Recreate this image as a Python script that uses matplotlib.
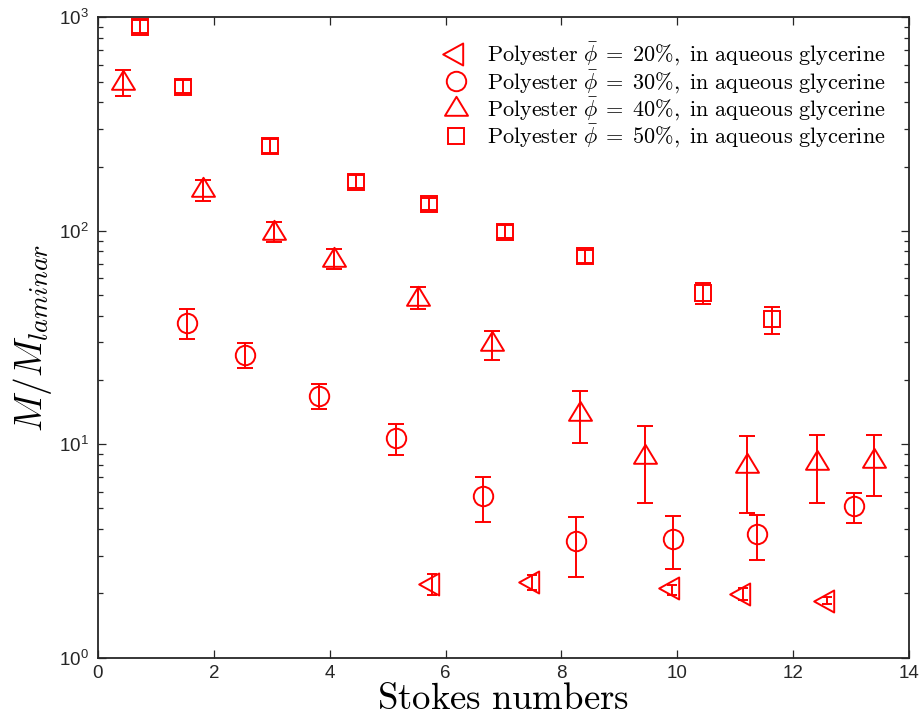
import numpy as np
import matplotlib
matplotlib.use("Agg")
import matplotlib.pyplot as plt
from matplotlib.path import Path
from matplotlib.ticker import LogLocator, NullFormatter, FixedLocator

plt.rcParams['font.family'] = ['Liberation Sans', 'DejaVu Sans']
plt.rcParams['mathtext.fontset'] = 'cm'

# ---- data ----
labels = [r'$\mathrm{Polyester}\ \bar{\phi}\;=\;20\%,\ \mathrm{in\ aqueous\ glycerine}$',
          r'$\mathrm{Polyester}\ \bar{\phi}\;=\;30\%,\ \mathrm{in\ aqueous\ glycerine}$',
          r'$\mathrm{Polyester}\ \bar{\phi}\;=\;40\%,\ \mathrm{in\ aqueous\ glycerine}$',
          r'$\mathrm{Polyester}\ \bar{\phi}\;=\;50\%,\ \mathrm{in\ aqueous\ glycerine}$']

x20 = [5.76, 7.49, 9.91, 11.13, 12.58]
y20 = [2.21, 2.26, 2.13, 1.99, 1.85]
lo20 = [1.96, 2.07, 1.97, 1.86, 1.79]
hi20 = [2.47, 2.43, 2.19, 2.11, 1.93]

x30 = [1.53, 2.53, 3.82, 5.14, 6.65, 8.26, 9.93, 11.38, 13.05]
y30 = [36.9, 26.2, 16.9, 10.7, 5.72, 3.52, 3.59, 3.80, 5.14]
lo30 = [31.1, 22.7, 14.6, 8.93, 4.31, 2.38, 2.60, 2.86, 4.26]
hi30 = [42.9, 29.8, 19.2, 12.4, 7.0, 4.58, 4.61, 4.68, 5.93]

x40 = [0.44, 1.82, 3.04, 4.07, 5.52, 6.81, 8.32, 9.44, 11.21, 12.41, 13.40]
y40 = [494, 154.5, 97.8, 73.1, 47.9, 29.6, 13.8, 8.7, 7.87, 8.16, 8.32]
lo40 = [429, 138, 88.9, 66.2, 42.9, 24.8, 10.1, 5.3, 4.78, 5.32, 5.72]
hi40 = [565, 173, 110, 81.9, 54.4, 34.0, 17.8, 12.2, 10.9, 11.1, 11.1]

x50 = [0.72, 1.46, 2.97, 4.45, 5.72, 7.03, 8.41, 10.45, 11.63]
y50 = [903, 473, 250, 170, 134, 99, 76, 51, 38.7]
lo50 = [840, 440, 232, 158, 125, 92, 71, 45.4, 32.8]
hi50 = [970, 510, 268, 182, 143, 106, 81, 57.1, 43.9]

xticks = [0, 2, 4, 6, 8, 10, 12, 14]

# ---- markers ----
PX2PT = 72 / 100.0

def poly_marker(verts):
    v = np.array(verts + [verts[0]], dtype=float)
    codes = [Path.MOVETO] + [Path.LINETO] * (len(verts) - 1) + [Path.CLOSEPOLY]
    ms = 2 * np.max(np.abs(v)) * PX2PT
    return Path(v, codes), ms

up_tri, ms_up = poly_marker([(0, 12.7), (-11.5, -6.3), (11.5, -6.3)])
left_tri, ms_left = poly_marker([(-13.3, 0), (6.7, 11), (6.7, -11)])

fig = plt.figure(figsize=(9.2, 7.19), dpi=100)
ax = fig.add_axes([98 / 920, 1 - 657.7 / 719, (909 - 98) / 920, (657.7 - 17.3) / 719])

red = '#ff0000'
lw = 1.4
common = dict(linestyle='none', color=red, mfc='none', mec=red, mew=lw,
              elinewidth=lw, capthick=lw, ecolor=red)

def err(y, lo, hi):
    y = np.array(y); return [y - np.array(lo), np.array(hi) - y]

e20 = ax.errorbar(x20, y20, yerr=err(y20, lo20, hi20), marker=left_tri, ms=ms_left, capsize=3.8, **common)
e30 = ax.errorbar(x30, y30, yerr=err(y30, lo30, hi30), marker='o', ms=14, capsize=5.8, **common)
e40 = ax.errorbar(x40, y40, yerr=err(y40, lo40, hi40), marker=up_tri, ms=ms_up, capsize=5.8, **common)
e50 = ax.errorbar(x50, y50, yerr=err(y50, lo50, hi50), marker='s', ms=11.5, capsize=5.8, **common)

ax.set_yscale('log')
ax.set_ylim(1, 1000)
ax.set_xlim(0, 14)
ax.xaxis.set_major_locator(FixedLocator(xticks))
ax.set_xticklabels([str(t) for t in xticks])
ax.yaxis.set_minor_locator(LogLocator(base=10, subs=np.arange(2, 10)))
ax.yaxis.set_minor_formatter(NullFormatter())

ax.tick_params(which='both', direction='in', top=True, right=True, color='#262626',
               labelcolor='#262626', labelsize=13.5)
ax.tick_params(which='major', length=6, width=0.9)
ax.tick_params(which='minor', length=3.5, width=0.9)
ax.tick_params(axis='x', pad=5.5)
ax.tick_params(axis='y', pad=6.5)
for s in ax.spines.values():
    s.set_linewidth(1.3)
    s.set_color('#262626')

xl = ax.set_xlabel(r'$\mathrm{Stokes\ numbers}$', fontsize=26.5, labelpad=0)
yl = ax.set_ylabel(r'$M/M_{laminar}$', fontsize=27, labelpad=4)
xl.set_math_fontfamily('cm')
yl.set_math_fontfamily('cm')

leg = ax.legend([e20[0], e30[0], e40[0], e50[0]], labels, loc='upper right',
                frameon=False, fontsize=16, labelspacing=0.0, handlelength=1.0,
                handletextpad=0.9, borderaxespad=0.0,
                bbox_to_anchor=(0.982, 0.977))
for t in leg.get_texts():
    t.set_math_fontfamily('cm')

fig.savefig('out.png', dpi=100)
